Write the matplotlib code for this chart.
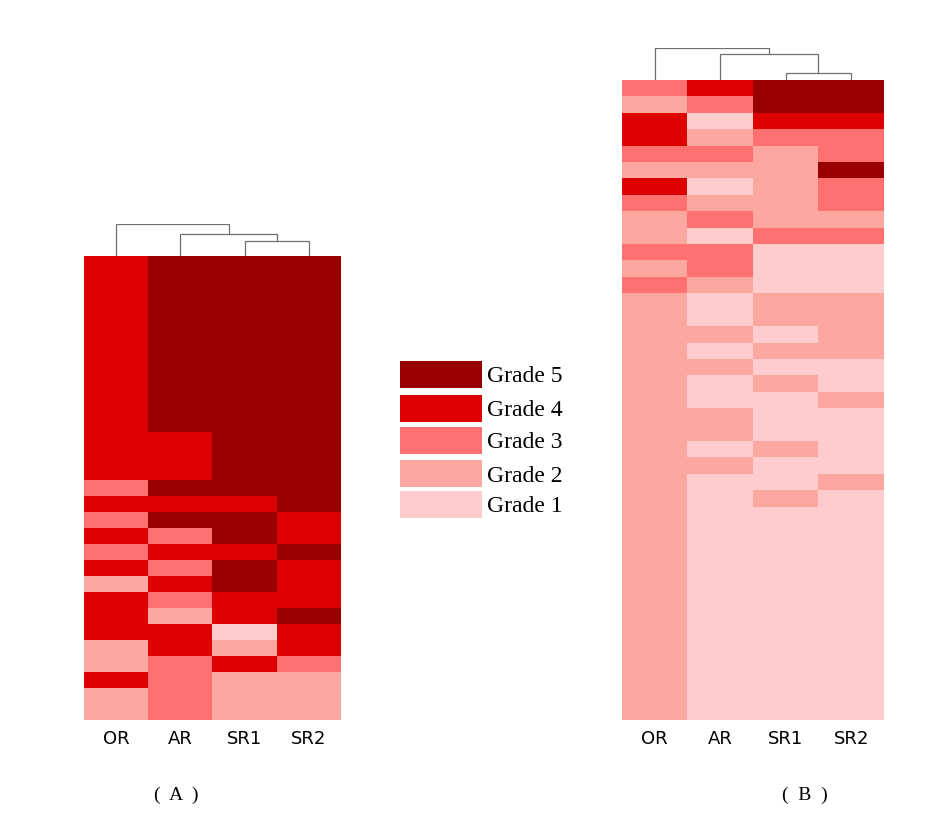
import numpy as np
import matplotlib
matplotlib.use('Agg')
import matplotlib.pyplot as plt
from matplotlib.colors import ListedColormap
from matplotlib.patches import Rectangle

# data
columns = ['OR', 'AR', 'SR1', 'SR2']
grade_labels = ['Grade 5', 'Grade 4', 'Grade 3', 'Grade 2', 'Grade 1']
grade_colors = ['#FECCCC', '#FCA8A0', '#FF7070', '#DD0000', '#990000']  # grade 1..5

# panel A, one list per column, rows top to bottom
or_a = [4, 4, 4, 4, 4, 4, 4, 4, 4, 4, 4, 4, 4, 4,
        3, 4, 3, 4, 3, 4, 2, 4, 4, 4, 2, 2, 4, 2, 2]
ar_a = [5, 5, 5, 5, 5, 5, 5, 5, 5, 5, 5, 4, 4, 4,
        5, 4, 5, 3, 4, 3, 4, 3, 2, 4, 4, 3, 3, 3, 3]
sr1_a = [5, 5, 5, 5, 5, 5, 5, 5, 5, 5, 5, 5, 5, 5,
         5, 4, 5, 5, 4, 5, 5, 4, 4, 1, 2, 4, 2, 2, 2]
sr2_a = [5, 5, 5, 5, 5, 5, 5, 5, 5, 5, 5, 5, 5, 5,
         5, 5, 4, 4, 5, 4, 4, 4, 5, 4, 4, 3, 2, 2, 2]

# panel B
or_b = [3, 2, 4, 4, 3, 2, 4, 3, 2, 2, 3, 2, 3,
        2, 2, 2, 2, 2, 2, 2, 2, 2, 2, 2, 2, 2,
        2, 2, 2, 2, 2, 2, 2, 2, 2, 2, 2, 2, 2]
ar_b = [4, 3, 1, 2, 3, 2, 1, 2, 3, 1, 3, 3, 2,
        1, 1, 2, 1, 2, 1, 1, 2, 2, 1, 2, 1, 1,
        1, 1, 1, 1, 1, 1, 1, 1, 1, 1, 1, 1, 1]
sr1_b = [5, 5, 4, 3, 2, 2, 2, 2, 2, 3, 1, 1, 1,
         2, 2, 1, 2, 1, 2, 1, 1, 1, 2, 1, 1, 2,
         1, 1, 1, 1, 1, 1, 1, 1, 1, 1, 1, 1, 1]
sr2_b = [5, 5, 4, 3, 3, 5, 3, 3, 2, 3, 1, 1, 1,
         2, 2, 2, 2, 1, 1, 2, 1, 1, 1, 1, 2, 1,
         1, 1, 1, 1, 1, 1, 1, 1, 1, 1, 1, 1, 1]

# dendrogram merge heights (SR1+SR2, +AR, +OR)
link_a = [0.46, 0.68, 1.0]
link_b = [0.21, 0.81, 1.0]

W, H = 953, 819
fig = plt.figure(figsize=(W / 100, H / 100), dpi=100)
cmap = ListedColormap(grade_colors)


def px_axes(x0, y0, x1, y1):
    """axes from pixel box (top-left origin)"""
    return fig.add_axes([x0 / W, 1 - y1 / H, (x1 - x0) / W, (y1 - y0) / H])


def heatmap(box, cols):
    ax = px_axes(*box)
    grid = np.array(cols).T
    ax.imshow(grid, cmap=cmap, vmin=0.5, vmax=5.5, aspect='auto',
              interpolation='nearest', extent=(0, 4, grid.shape[0], 0))
    ax.set_xticks(np.arange(4) + 0.5)
    ax.set_xticklabels(columns, fontsize=13, family='DejaVu Sans')
    ax.tick_params(length=0, pad=7)
    ax.set_yticks([])
    for s in ax.spines.values():
        s.set_visible(False)
    return ax


def dendro(box, link):
    ax = px_axes(*box)
    h1, h2, h3 = link
    c = '#707070'
    lw = 0.9
    # SR1 + SR2
    ax.plot([2.5, 2.5, 3.5, 3.5], [0, h1, h1, 0], color=c, lw=lw)
    # AR + (SR1,SR2)
    ax.plot([1.5, 1.5, 3.0, 3.0], [0, h2, h2, h1], color=c, lw=lw)
    # OR + rest
    ax.plot([0.5, 0.5, 2.25, 2.25], [0, h3, h3, h2], color=c, lw=lw)
    ax.set_xlim(0, 4)
    ax.set_ylim(0, 1.0)
    ax.axis('off')


heatmap((84, 256, 341, 720), [or_a, ar_a, sr1_a, sr2_a])
dendro((84, 224, 341, 256), link_a)
heatmap((622, 80, 884, 720), [or_b, ar_b, sr1_b, sr2_b])
dendro((622, 48, 884, 80), link_b)

# legend
lax = px_axes(0, 0, W, H)
lax.set_xlim(0, W)
lax.set_ylim(H, 0)
lax.axis('off')
box_tops = [361, 395, 427, 460, 491]
for i, lab in enumerate(grade_labels):
    y = box_tops[i]
    lax.add_patch(Rectangle((400, y), 82, 26.5, color=grade_colors[4 - i], lw=0))
    lax.text(487, y + 16, lab, fontsize=17, family='Liberation Serif',
             ha='left', va='center')

lax.text(176, 795, '(  A  )', fontsize=14, family='Liberation Serif',
         ha='center', va='center')
lax.text(805, 795, '(  B  )', fontsize=14, family='Liberation Serif',
         ha='center', va='center')

fig.savefig('out.png', dpi=100)
